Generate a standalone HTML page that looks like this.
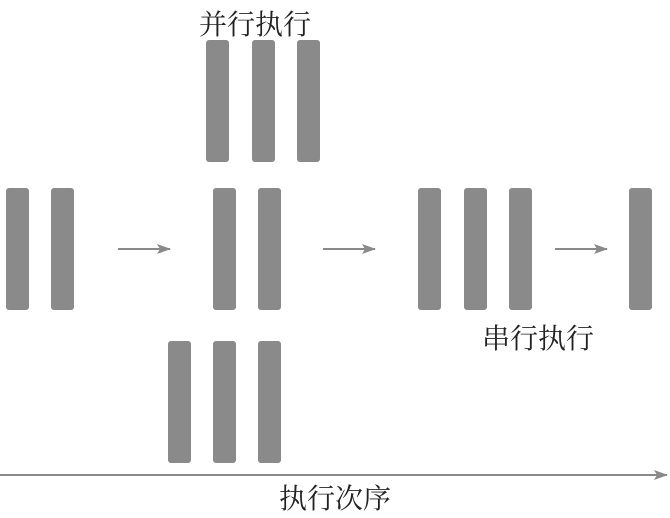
<!DOCTYPE html>
<html><head><meta charset="utf-8"><style>
body{margin:0;background:#fff;width:670px;height:518px;overflow:hidden}
svg{display:block}
text{font-family:"Liberation Serif","Noto Serif CJK SC",serif;font-size:28px;fill:#222}
</style></head><body>
<svg width="670" height="518">
<defs><marker id="ah" markerWidth="14" markerHeight="10" refX="13" refY="5" orient="auto" markerUnits="userSpaceOnUse"><path d="M0,0 L14,5 L0,10 L3,5 Z" fill="#8a8a8a"/></marker></defs>
<g id="bars" fill="#8a8a8a"></g>
<g stroke="#8a8a8a" stroke-width="2" fill="none">
<line x1="118" y1="249" x2="170" y2="249" marker-end="url(#ah)"/>
<line x1="323" y1="249" x2="375" y2="249" marker-end="url(#ah)"/>
<line x1="555" y1="249" x2="607" y2="249" marker-end="url(#ah)"/>
<line x1="0" y1="475" x2="667" y2="475" marker-end="url(#ah)"/>
</g>
<text x="199" y="34">并行执行</text>
<text x="482" y="348">串行执行</text>
<text x="279" y="508">执行次序</text>
</svg>
<script>
const barX=[6,51,206,252,297,213,258,168,213,258,418,464,509,629];
const barY=[188,188,40,40,40,188,188,341,341,341,188,188,188,188];
const g=document.getElementById('bars');
barX.forEach((x,i)=>{
const r=document.createElementNS('http://www.w3.org/2000/svg','rect');
r.setAttribute('x',x);r.setAttribute('y',barY[i]);r.setAttribute('width',23);r.setAttribute('height',122);r.setAttribute('rx',3);


g.appendChild(r);});
</script>
</body></html>
